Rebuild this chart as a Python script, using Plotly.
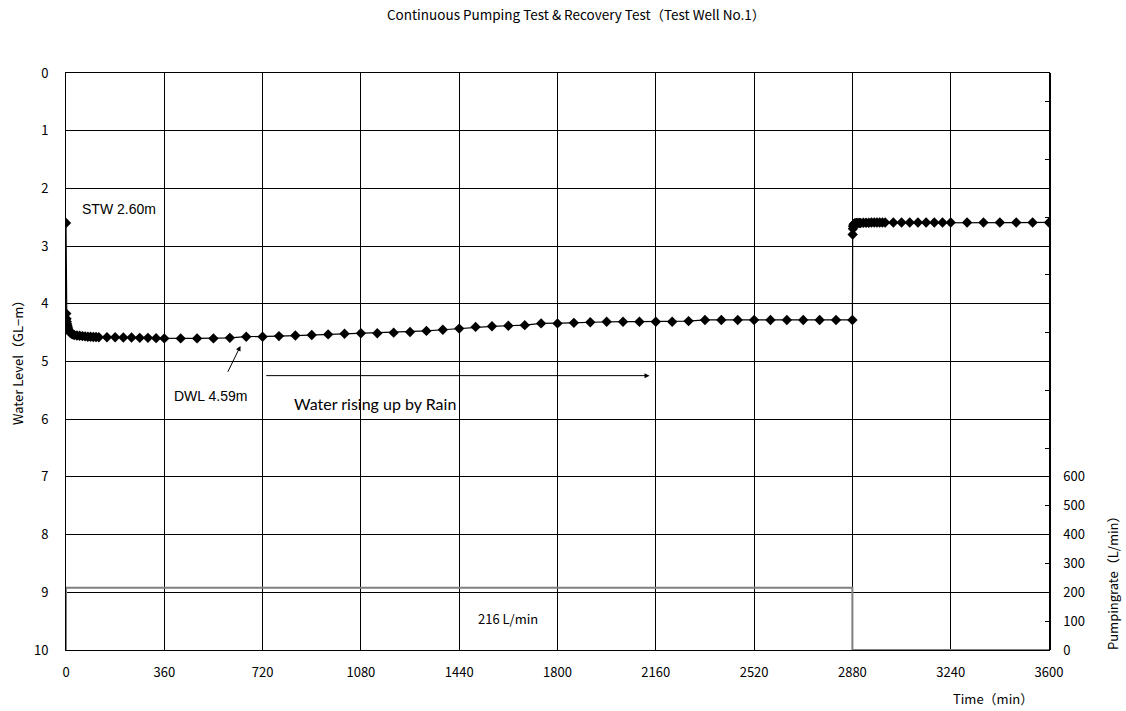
import plotly.graph_objects as go

# Water level during continuous pumping (0-2880 min) and recovery (2880-3600 min)
pump_time = [0, 1, 2, 3, 4, 5, 6, 7, 8, 9, 10, 15, 20, 25, 30, 40, 50, 60, 70, 80, 90, 100, 110, 120,
             150, 180, 210, 240, 270, 300, 330, 360,
             420, 480, 540, 600, 660, 720, 780, 840, 900, 960, 1020, 1080, 1140, 1200, 1260, 1320,
             1380, 1440, 1500, 1560, 1620, 1680, 1740, 1800, 1860, 1920, 1980, 2040, 2100, 2160,
             2220, 2280, 2340, 2400, 2460, 2520, 2580, 2640, 2700, 2760, 2820, 2880]
pump_level = [2.60, 4.17, 4.26, 4.31, 4.35, 4.38, 4.40, 4.42, 4.44, 4.45, 4.47, 4.50, 4.52, 4.53, 4.54,
              4.55, 4.555, 4.56, 4.565, 4.57, 4.57, 4.575, 4.575, 4.58,
              4.58, 4.58, 4.585, 4.585, 4.59, 4.59, 4.595, 4.60,
              4.60, 4.60, 4.60, 4.59, 4.57, 4.57, 4.56, 4.55, 4.54, 4.53, 4.52, 4.51, 4.51, 4.50,
              4.49, 4.47, 4.45, 4.43, 4.40, 4.39, 4.38, 4.37, 4.34, 4.34, 4.33, 4.32, 4.31, 4.31,
              4.31, 4.31, 4.31, 4.30, 4.28, 4.28, 4.28, 4.28, 4.28, 4.28, 4.28, 4.28, 4.28, 4.28]

rec_time = [2881, 2882, 2883, 2884, 2885, 2886, 2887, 2888, 2889, 2890, 2895, 2900, 2905, 2910,
            2920, 2930, 2940, 2950, 2960, 2970, 2980, 2990, 3000,
            3030, 3060, 3090, 3120, 3150, 3180, 3210, 3240,
            3300, 3360, 3420, 3480, 3540, 3600]
rec_level = [2.80, 2.70, 2.66, 2.64, 2.63, 2.62, 2.615, 2.61, 2.61, 2.605, 2.60, 2.60, 2.60, 2.60,
             2.595, 2.595, 2.595, 2.59, 2.59, 2.59, 2.59, 2.59, 2.59,
             2.59, 2.59, 2.59, 2.59, 2.59, 2.59, 2.59, 2.59,
             2.59, 2.59, 2.59, 2.59, 2.59, 2.59]

# Pumping rate (L/min)
rate_time = [0, 0, 2880, 2880, 3600]
rate_value = [0, 216, 216, 0, 0]

x_ticks = [0, 360, 720, 1080, 1440, 1800, 2160, 2520, 2880, 3240, 3600]
y_ticks = list(range(0, 11))
y2_ticks = list(range(0, 2001, 100))
y2_labels = [str(v) if v <= 600 else "" for v in y2_ticks]

tick_font = dict(family="Noto Sans CJK JP", size=13, color="black")

fig = go.Figure()

fig.add_trace(go.Scatter(
    x=rate_time, y=rate_value, yaxis="y2", mode="lines",
    line=dict(color="#808080", width=2), hoverinfo="skip", showlegend=False))

fig.add_trace(go.Scatter(
    x=pump_time + rec_time, y=pump_level + rec_level, mode="lines+markers",
    line=dict(color="black", width=1.2),
    marker=dict(symbol="diamond", size=8, color="black"),
    showlegend=False))

fig.update_layout(
    width=1126, height=711,
    margin=dict(l=66, r=77, t=73, b=61),
    paper_bgcolor="white", plot_bgcolor="white",
    xaxis=dict(range=[0, 3600], tickvals=x_ticks, showgrid=True, gridcolor="black", gridwidth=1,
               showline=True, linecolor="black", linewidth=1, mirror=True, zeroline=False,
               ticks="", tickfont=tick_font, ticklabelstandoff=10),
    yaxis=dict(range=[10, 0], tickvals=y_ticks, showgrid=True, gridcolor="black", gridwidth=1,
               showline=True, linecolor="black", linewidth=1, mirror=True, zeroline=False,
               ticks="", tickfont=tick_font, ticklabelstandoff=14),
    yaxis2=dict(range=[0, 2000], overlaying="y", side="right", tickvals=y2_ticks, ticktext=y2_labels,
                showgrid=False, zeroline=False, showline=True, linecolor="black", linewidth=1.5,
                ticks="inside", ticklen=4, tickcolor="black", tickfont=tick_font, ticklabelstandoff=10),
)

ann_font = dict(family="Liberation Sans", size=14, color="black")
fig.add_annotation(text="Continuous Pumping Test & Recovery Test（Test Well No.1）",
                   xref="paper", yref="paper", x=(576 - 66) / 983, y=1 + (73 - 14) / 577,
                   xanchor="center", yanchor="middle", showarrow=False,
                   font=dict(family="Noto Sans CJK JP", size=13.5, color="black"))
fig.add_annotation(text="Water Level（GL−m）", xref="paper", yref="paper",
                   x=(17 - 66) / 983, y=(650 - 360) / 577, xanchor="center", yanchor="middle",
                   textangle=-90, showarrow=False, font=tick_font)
fig.add_annotation(text="Pumpingrate（L/min）", xref="paper", yref="paper",
                   x=(1112 - 66) / 983, y=(650 - 580) / 577, xanchor="center", yanchor="middle",
                   textangle=-90, showarrow=False, font=tick_font)
fig.add_annotation(text="Time（min）", xref="paper", yref="paper",
                   x=(993 - 66) / 983, y=-(698 - 650) / 577, xanchor="center", yanchor="middle",
                   showarrow=False, font=tick_font)

fig.add_annotation(text="STW 2.60m", x=51, y=2.36, xanchor="left", showarrow=False, font=ann_font)
fig.add_annotation(text="DWL 4.59m", x=531, y=5.6, showarrow=False, font=ann_font)
fig.add_annotation(text="", x=639, y=4.73, ax=590, ay=5.205, axref="x", ayref="y",
                   showarrow=True, arrowhead=2, arrowsize=1, arrowwidth=1, arrowcolor="black")
fig.add_annotation(text="", x=2137, y=5.245, ax=728, ay=5.245, axref="x", ayref="y",
                   showarrow=True, arrowhead=2, arrowsize=1, arrowwidth=1, arrowcolor="black")
fig.add_annotation(text="Water rising up by Rain", x=1131, y=5.72, showarrow=False,
                   font=dict(family="Lato", size=16, color="black"))
fig.add_annotation(text="216 L/min", x=1617, y=9.45, showarrow=False,
                   font=dict(family="Noto Sans CJK JP", size=13, color="black"))

fig.write_html("out.html")
